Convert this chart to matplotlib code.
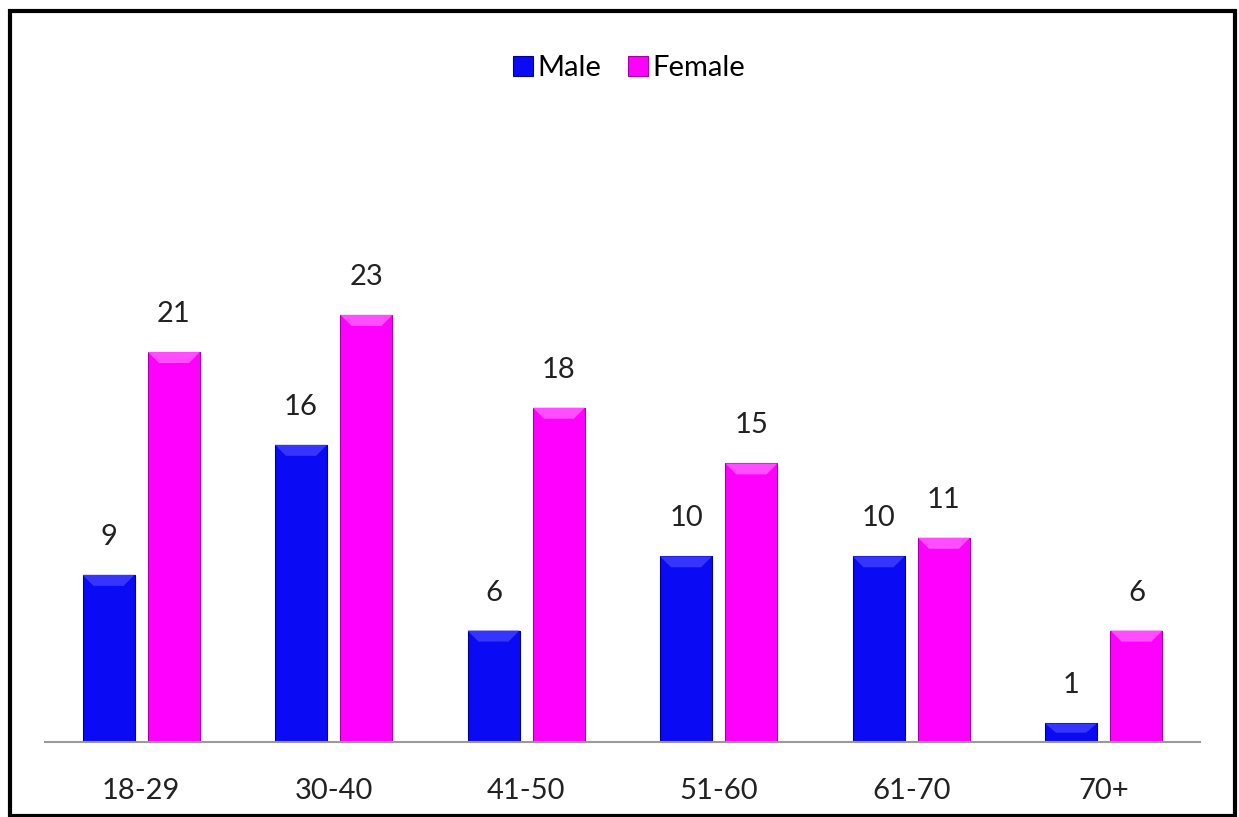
import matplotlib
matplotlib.use("Agg")
import matplotlib.pyplot as plt
import numpy as np
from matplotlib.patches import Rectangle, Polygon

categories = ["18-29", "30-40", "41-50", "51-60", "61-70", "70+"]
male = [9, 16, 6, 10, 10, 1]
female = [21, 23, 18, 15, 11, 6]

plt.rcParams['font.family'] = ['Lato', 'DejaVu Sans']

W, H = 1239, 817
fig = plt.figure(figsize=(W / 100, H / 100), dpi=100)

# outer frame
fig.patches.append(Rectangle((9.5 / W, 1.5 / H), 1225 / W, 805 / H,
                             transform=fig.transFigure, fill=False,
                             edgecolor='black', linewidth=3))

ax = fig.add_axes([45 / W, 75 / H, 1155 / W, 642 / H])
x = np.arange(len(categories))
bw = 0.27
off = 0.17
ppu = 18.57
ax.set_xlim(-0.5, len(categories) - 0.5)
ax.set_ylim(0, 642 / ppu)

bm = ax.bar(x - off, male, bw, color='#0A0AF5', edgecolor='#00008A', linewidth=0.8, label='Male')
bf = ax.bar(x + off, female, bw, color='#FF00FF', edgecolor='#A000A0', linewidth=0.8, label='Female')

# bevel effect on top of bars
bev_h = 11 / ppu
bev_w = 11 / 192.5
for bars, light in ((bm, '#3535FF'), (bf, '#FF4DFF')):
    for b in bars:
        x0 = b.get_x()
        x1 = x0 + b.get_width()
        top = b.get_height()
        h = min(bev_h, top / 2)
        ax.add_patch(Polygon([(x0, top), (x1, top), (x1 - bev_w, top - h), (x0 + bev_w, top - h)],
                             closed=True, facecolor=light, edgecolor='none', zorder=3))

for bars, vals in ((bm, male), (bf, female)):
    for b, v in zip(bars, vals):
        ax.annotate(str(v), (b.get_x() + b.get_width() / 2, v), xytext=(0, 18),
                    textcoords='offset points', ha='center', va='bottom',
                    fontsize=21, color='#222222')

for s in ['top', 'right', 'left']:
    ax.spines[s].set_visible(False)
ax.spines['bottom'].set_color('#999999')
ax.spines['bottom'].set_linewidth(1.5)
ax.set_yticks([])
ax.set_xticks(x)
ax.set_xticklabels(categories, fontsize=21, color='#222222')
ax.tick_params(axis='x', length=0, pad=26)

leg = fig.legend(handles=[bm, bf], labels=['Male', 'Female'], loc='center',
                 bbox_to_anchor=(629 / W, 1 - 68 / H), ncol=2, frameon=False,
                 fontsize=21, handlelength=0.7, handleheight=0.7,
                 handletextpad=0.15, columnspacing=0.9)

fig.savefig('out.png', dpi=100)
